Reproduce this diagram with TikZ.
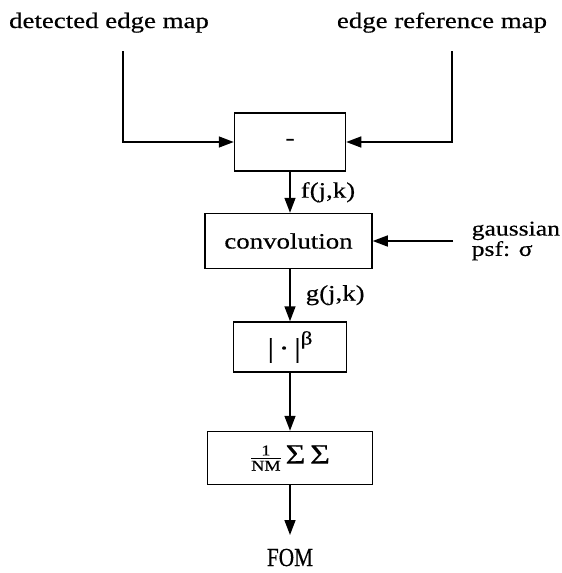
\documentclass[tikz,border=0pt]{standalone}
\usepackage{fontspec}
\setmainfont{Liberation Serif}
\newfontfamily\widefont[FakeStretch=1.22, FakeBold=0.4]{Liberation Serif}
\newfontfamily\narrowfont[FakeStretch=0.82, FakeBold=0.4]{Liberation Serif}
\usetikzlibrary{arrows.meta, positioning}

\begin{document}
\begin{tikzpicture}[x=1pt, y=-1pt, line width=1.5pt,
    font=\widefont\fontsize{22}{24}\selectfont,
    block/.style={draw, rectangle, inner sep=0pt},
    flow/.style={-{Triangle[length=15pt, width=11pt]}},
    lbl/.style={inner sep=0pt, font=\widefont\fontsize{22}{24}\selectfont}]
    \useasboundingbox (0,0) rectangle (562,573);
    % inputs
    \node[inner sep=0pt, anchor=base] (detected) at (109,28) {detected edge map};
    \node[inner sep=0pt, anchor=base] (reference) at (442,28) {edge reference map};
    \coordinate (dtop) at (123,51);
    \coordinate (rtop) at (452,51);
    \coordinate (gin) at (453,241);
    % blocks
    \node[block, minimum width=111pt, minimum height=58pt] (minus) at (290,142) {-};
    \node[block, minimum width=167pt, minimum height=55pt] (conv) at (288.5,241) {convolution};
    \node[block, minimum width=113pt, minimum height=50pt] (power) at (290,347)
        {\fontsize{27}{27}\selectfont|\,·\,|\raisebox{1.0ex}{\fontsize{19}{20}\selectfont β}};
    \node[block, minimum width=165pt, minimum height=53pt] (sum) at (290,458)
        {$\frac{\hbox{\widefont\fontsize{15}{15}\selectfont 1}}{\hbox{\widefont\fontsize{15}{15}\selectfont NM}}$\,\fontsize{28}{28}\selectfont Σ\,Σ};
    \node[inner sep=0pt, anchor=base, font=\narrowfont\fontsize{26}{26}\selectfont] (fom) at (290,566) {FOM};
    \node[inner sep=0pt, align=left, anchor=west, font=\widefont\fontsize{21}{18.5}\selectfont] (psf) at (471,241) {gaussian\\psf: σ};
    % connectors
    \draw[flow] (dtop) |- (minus.west);
    \draw[flow] (rtop) |- (minus.east);
    \draw[flow] (minus.south -| 290,0) -- (conv.north -| 290,0)
        node[lbl, midway, anchor=west, xshift=10pt] {f(j,k)};
    \draw[flow] (gin) -- (conv.east);
    \draw[flow] (conv.south -| 290,0) -- (power.north)
        node[lbl, midway, anchor=west, xshift=15pt] {g(j,k)};
    \draw[flow] (power) -- (sum);
    \draw[flow] (sum) -- (fom.north |- 0,535);
\end{tikzpicture}
\end{document}
